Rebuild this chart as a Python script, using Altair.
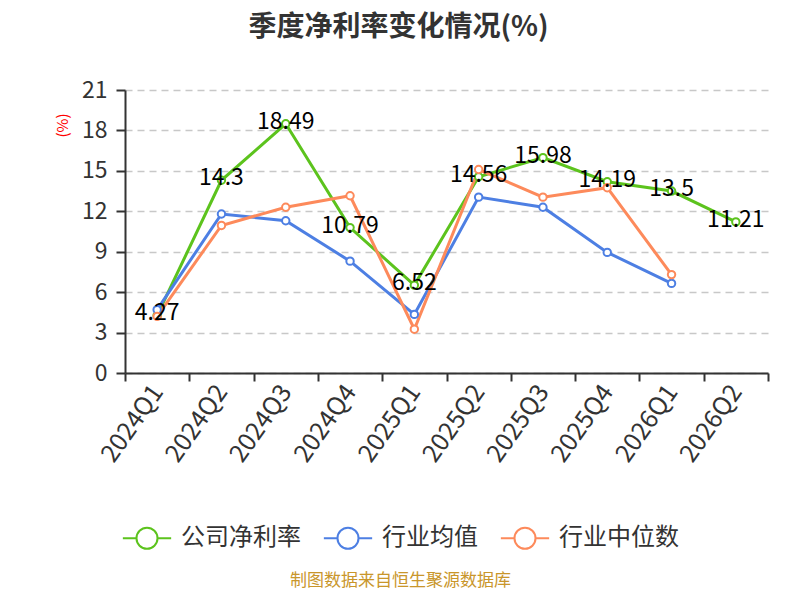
import altair as alt
import pandas as pd

quarters = ["2024Q1", "2024Q2", "2024Q3", "2024Q4", "2025Q1",
            "2025Q2", "2025Q3", "2025Q4", "2026Q1", "2026Q2"]
company = [4.27, 14.3, 18.49, 10.79, 6.52, 14.56, 15.98, 14.19, 13.5, 11.21]
ind_mean = [4.7, 11.8, 11.3, 8.3, 4.35, 13.05, 12.3, 8.95, 6.65, None]
ind_median = [4.2, 10.95, 12.3, 13.15, 3.25, 15.1, 13.05, 13.75, 7.3, None]
series_names = ["公司净利率", "行业均值", "行业中位数"]
series_colors = ["#5cc31d", "#4d7fe3", "#fd8a5b"]

rows = []
for name, vals in zip(series_names, [company, ind_mean, ind_median]):
    for q, v in zip(quarters, vals):
        if v is not None:
            rows.append({"quarter": q, "series": name, "value": v})
df = pd.DataFrame(rows)

FONT = "Noto Sans CJK SC"

x_enc = alt.X(
    "quarter:O",
    sort=quarters,
    scale=alt.Scale(type="band", paddingInner=0, paddingOuter=0),
    axis=alt.Axis(
        title="制图数据来自恒生聚源数据库",
        titleColor="#c9962b",
        titleFont=FONT,
        titleFontSize=17,
        titleFontWeight="normal",
        titleX=275,
        titleY=207,
        titleAlign="center",
        titleBaseline="middle",
        tickBand="extent",
        grid=False,
        domainColor="#333333",
        domainWidth=2,
        tickColor="#333333",
        tickWidth=2,
        tickSize=8,
        labelAngle=305,
        labelAlign="right",
        labelBaseline="middle",
        labelPadding=6,
        labelFont=FONT,
        labelFontSize=25,
        labelColor="#333333",
    ),
)

y_enc = alt.Y(
    "value:Q",
    scale=alt.Scale(domain=[0, 21], nice=False),
    axis=alt.Axis(
        title="(%)",
        titleColor="#ff0000",
        titleFont=FONT,
        titleFontSize=15,
        titleFontWeight="normal",
        titleX=-63,
        titleY=35,
        titleAlign="center",
        titleBaseline="middle",
        values=[0, 3, 6, 9, 12, 15, 18, 21],
        grid=True,
        gridColor="#c8c8c8",
        gridDash=[7, 5],
        gridWidth=1.5,
        domainColor="#333333",
        domainWidth=2,
        tickColor="#333333",
        tickWidth=2,
        tickSize=9,
        labelPadding=9,
        labelFont=FONT,
        labelFontSize=23,
        labelColor="#333333",
    ),
)

color_enc = alt.Color(
    "series:N",
    sort=series_names,
    scale=alt.Scale(domain=series_names, range=series_colors),
    legend=alt.Legend(
        title=None,
        orient="none",
        direction="horizontal",
        legendX=10,
        legendY=436,
        symbolType="M-2.3,0L-1,0M1,0L2.3,0M1,0A1,1,0,1,1,-1,0A1,1,0,1,1,1,0",
        symbolSize=441,
        symbolFillColor="white",
        symbolStrokeWidth=2,
        labelFont=FONT,
        labelFontSize=24,
        labelColor="#333333",
        labelOffset=22,
        columnPadding=18,
    ),
)

base = alt.Chart(df).encode(x=x_enc, y=y_enc, color=color_enc)

lines = base.mark_line(strokeWidth=3)
points = base.mark_point(filled=False, fill="white", size=55, strokeWidth=2, opacity=1)
labels = alt.Chart(df[df["series"] == "公司净利率"]).mark_text(
    font=FONT, fontSize=23, color="#000000", baseline="middle", align="center", dy=-2
).encode(x=alt.X("quarter:O", sort=quarters), y="value:Q", text="value:Q")

chart = alt.layer(lines, points, labels).properties(
    width=643,
    height=283,
    autosize=alt.AutoSizeParams(type="none"),
    padding={"left": 117, "top": 82, "right": 24, "bottom": 219},
    title=alt.TitleParams(
        "季度净利率变化情况(%)",
        font=FONT,
        fontSize=28,
        fontWeight="bold",
        color="#333333",
        anchor="middle",
        frame="group",
        dx=-48,
        offset=37,
    ),
).configure_view(stroke=None)

chart.save("out.html", embed_options={"renderer": "svg", "actions": False})
